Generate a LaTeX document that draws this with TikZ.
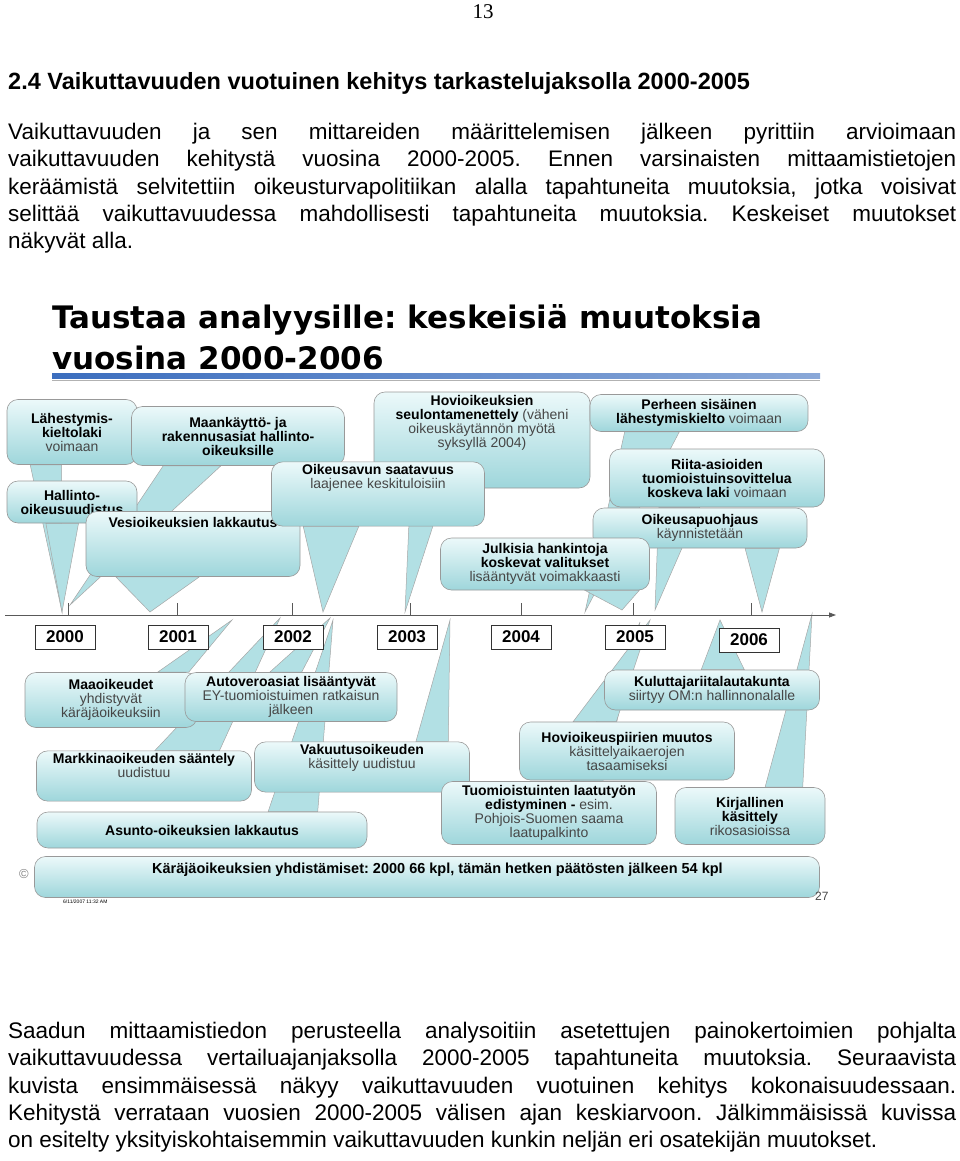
\documentclass[tikz,border=0pt]{standalone}
\usepackage{fontspec}
\setmainfont{Liberation Sans}
\newfontfamily\serifnum{Liberation Serif}
\newfontfamily\titlefont{DejaVu Sans}
\usetikzlibrary{arrows.meta,calc,backgrounds}
\definecolor{cA}{RGB}{236,249,250}
\definecolor{cB}{RGB}{158,214,219}
\definecolor{cP}{RGB}{178,224,228}
\definecolor{txg}{RGB}{70,70,70}
\definecolor{tlblue}{RGB}{60,110,190}
\newcommand\bt[1]{\textbf{#1}}
\newcommand\rt[1]{{\color{txg}#1}}
% #1 name, #2 center, #3 w, #4 h, #5 side, #6 fa, #7 fb, #8 tip, #9 text
\newcommand\cout[9]{%
  \node[callout,minimum width=#3pt,minimum height=#4pt] (#1) at #2 {#9};
  \begin{pgfonlayer}{background}
  \filldraw[ptr] ($(#1.#5 west)!#6!(#1.#5 east)$) -- #8 -- ($(#1.#5 west)!#7!(#1.#5 east)$) -- cycle;
  \end{pgfonlayer}}
\frenchspacing
\begin{document}
\begin{tikzpicture}[x=1pt,y=-1pt,
  callout/.style={draw=gray!80,line width=0.6pt,rounded corners=11pt,top color=cA,bottom color=cB,
    align=center,font=\fontsize{14}{14}\selectfont,inner sep=2pt},
  ptr/.style={fill=cP,draw=gray!70,line width=0.5pt},
  yearbox/.style={draw=black!80,line width=0.7pt,minimum width=60pt,minimum height=24pt,
    font=\bfseries\fontsize{17}{17}\selectfont,fill=white},
  pagetext/.style={anchor=north west,inner sep=0pt,text width=948pt,align=justify,
    font=\fontsize{22.5}{27.3}\selectfont}]
\useasboundingbox (0,0) rectangle (960,1161);

\node[font=\serifnum\fontsize{21}{21}\selectfont] (pnum) at (483,12) {13};
\node[anchor=base west,inner sep=0pt,font=\bfseries\fontsize{23.5}{24}\selectfont] (head) at (8,90)
  {2.4 Vaikuttavuuden vuotuinen kehitys tarkastelujaksolla 2000-2005};
\node[pagetext] (p1) at (8,123) {Vaikuttavuuden ja sen mittareiden määrittelemisen jälkeen pyrittiin arvioimaan\linebreak
vaikuttavuuden kehitystä vuosina 2000-2005. Ennen varsinaisten mittaamistietojen\linebreak
keräämistä selvitettiin oikeusturvapolitiikan alalla tapahtuneita muutoksia, jotka voisivat\linebreak
selittää vaikuttavuudessa mahdollisesti tapahtuneita muutoksia. Keskeiset muutokset\linebreak
näkyvät alla.};
\node[pagetext] (p2) at (8,1022) {Saadun mittaamistiedon perusteella analysoitiin asetettujen painokertoimien pohjalta\linebreak
vaikuttavuudessa vertailuajanjaksolla 2000-2005 tapahtuneita muutoksia. Seuraavista\linebreak
kuvista ensimmäisessä näkyy vaikuttavuuden vuotuinen kehitys kokonaisuudessaan.\linebreak
Kehitystä verrataan vuosien 2000-2005 välisen ajan keskiarvoon. Jälkimmäisissä kuvissa\linebreak
on esitelty yksityiskohtaisemmin vaikuttavuuden kunkin neljän eri osatekijän muutokset.};

% slide title
\node[anchor=base west,inner sep=0pt,font=\titlefont\bfseries\fontsize{31}{31}\selectfont] (t1) at (52,328) {Taustaa analyysille: keskeisiä muutoksia};
\node[anchor=base west,inner sep=0pt,font=\titlefont\bfseries\fontsize{31}{31}\selectfont] (t2) at (52,369) {vuosina 2000-2006};
\fill[left color=tlblue,right color=tlblue!60] (52,373) rectangle (820,378);
\draw[gray!60] (52,380) -- (820,380);

% timeline
\coordinate (tl0) at (5,615); \coordinate (tl1) at (836,615);
\draw[gray!70!black,line width=0.8pt,-{Triangle[length=7pt,width=5pt]}] (tl0) -- (tl1);
\foreach \x in {68,177,292,410,521,633,751} \draw[gray!70!black] (\x,603) -- (\x,615);

% callouts above
\cout{L1}{(72,432)}{130}{65}{south}{0.18}{0.42}{(62,612)}{\bt{Lähestymis-}\\\bt{kieltolaki}\\\rt{voimaan}}
\cout{L2}{(72,502)}{130}{42}{south}{0.3}{0.55}{(62,612)}{\bt{Hallinto-}\\\bt{oikeusuudistus}}
\cout{L3}{(238,436)}{213}{59}{south}{0.15}{0.42}{(70,605)}{\bt{Maankäyttö- ja}\\\bt{rakennusasiat hallinto-}\\\bt{oikeuksille}}
\cout{L4}{(193,544)}{214}{65}{south}{0.14}{0.53}{(150,612)}{\bt{Vesioikeuksien lakkautus}\\[30pt]\mbox{}}
\cout{L6}{(482,440)}{216}{96}{south}{0.17}{0.33}{(405,612)}{\bt{Hovioikeuksien}\\\bt{seulontamenettely} \rt{(väheni}\\\rt{oikeuskäytännön myötä}\\\rt{syksyllä 2004)}\\[24pt]\mbox{}}
\cout{L5}{(378,494)}{213}{62}{south}{0.15}{0.41}{(323,612)}{\bt{Oikeusavun saatavuus}\\\rt{laajenee keskituloisiin}\\[22pt]\mbox{}}
\cout{L7}{(699,413)}{218}{37}{south}{0.16}{0.41}{(585,612)}{\bt{Perheen sisäinen}\\\bt{lähestymiskielto} \rt{voimaan}}
\cout{L8}{(717,478)}{215}{58}{south}{0.23}{0.42}{(655,610)}{\bt{Riita-asioiden}\\\bt{tuomioistuinsovittelua}\\\bt{koskeva laki} \rt{voimaan}}
\cout{L9}{(700,528)}{214}{40}{south}{0.71}{0.87}{(762,612)}{\bt{Oikeusapuohjaus}\\\rt{käynnistetään}}
\cout{L10}{(545,564)}{209}{52}{south}{0.69}{0.95}{(622,610)}{\bt{Julkisia hankintoja}\\\bt{koskevat valitukset}\\\rt{lisääntyvät voimakkaasti}}

% year boxes
\node[yearbox] (y0) at (65,637) {2000};
\node[yearbox] (y1) at (178,637) {2001};
\node[yearbox] (y2) at (293,637) {2002};
\node[yearbox] (y3) at (407,637) {2003};
\node[yearbox] (y4) at (521,637) {2004};
\node[yearbox] (y5) at (635,637) {2005};
\node[yearbox] (y6) at (749,640) {2006};

% callouts below
\cout{B5}{(202,830)}{330}{36}{north}{0.7}{0.85}{(333,620)}{\bt{Asunto-oikeuksien lakkautus}}
\cout{B3}{(144,776)}{215}{48}{north}{0.55}{0.85}{(280,618)}{\bt{Markkinaoikeuden sääntely}\\\rt{uudistuu}\\[8pt]\mbox{}}
\cout{B4}{(362,767)}{215}{50}{north}{0.75}{0.9}{(450,620)}{\bt{Vakuutusoikeuden}\\\rt{käsittely uudistuu}\\[8pt]\mbox{}}
\cout{B1}{(111,700)}{172}{55}{north}{0.77}{0.95}{(232,620)}{\bt{Maaoikeudet}\\\rt{yhdistyvät}\\\rt{käräjäoikeuksiin}}
\cout{B2}{(291,697)}{212}{49}{north}{0.40}{0.55}{(330,618)}{\bt{Autoveroasiat lisääntyvät}\\\rt{EY-tuomioistuimen ratkaisun}\\\rt{jälkeen}}
\cout{B6}{(549,813)}{215}{63}{north}{0.6}{0.75}{(640,622)}{\bt{Tuomioistuinten laatutyön}\\\bt{edistyminen -} \rt{esim.}\\\rt{Pohjois-Suomen saama}\\\rt{laatupalkinto}}
\cout{B7}{(627,751)}{215}{58}{north}{0.25}{0.45}{(650,620)}{\bt{Hovioikeuspiirien muutos}\\\rt{käsittelyaikaerojen}\\\rt{tasaamiseksi}}
\cout{B9}{(750,816)}{150}{57}{north}{0.6}{0.85}{(812,614)}{\bt{Kirjallinen}\\\bt{käsittely}\\\rt{rikosasioissa}}
\cout{B8}{(712,690)}{215}{40}{north}{0.45}{0.65}{(720,620)}{\bt{Kuluttajariitalautakunta}\\\rt{siirtyy OM:n hallinnonalalle}}
\node[callout,minimum width=785pt,minimum height=41pt,anchor=center] (B10) at (427,877) {};
\node[anchor=west,font=\bfseries\fontsize{14.5}{15}\selectfont,inner sep=0pt] (B10t) at (152,870)
  {Käräjäoikeuksien yhdistämiset: 2000 66 kpl, tämän hetken päätösten jälkeen 54 kpl};

\node[text=gray,font=\fontsize{13}{13}\selectfont] (copy) at (24,874) {©};
\node[anchor=west,font=\fontsize{5}{5}\selectfont,inner sep=0pt] (date) at (63,902) {6/11/2007 11:32 AM};
\node[anchor=west,text=txg,font=\fontsize{12}{12}\selectfont,inner sep=0pt] (snum) at (815,896) {27};
\end{tikzpicture}
\end{document}
